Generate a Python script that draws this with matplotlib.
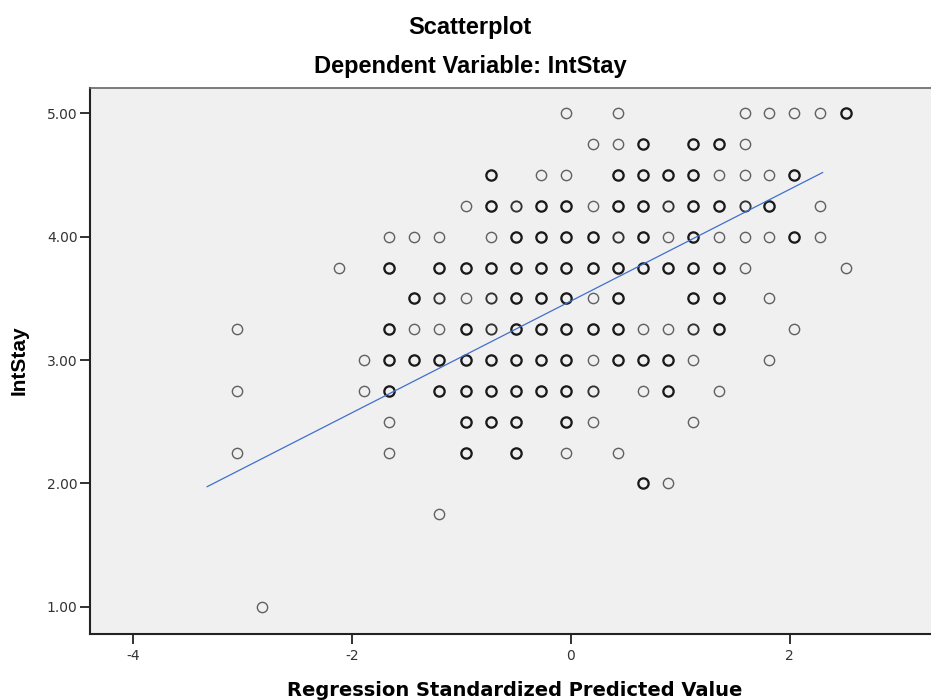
import matplotlib
matplotlib.use("Agg")
import matplotlib.pyplot as plt

# predicted value (x), IntStay level (y); n = how many cases sit on the same spot
pts_500 = [(-0.04, 1), (0.43, 1), (1.59, 1), (1.81, 1), (2.04, 1), (2.28, 1), (2.51, 3)]
pts_475 = [(0.20, 1), (0.43, 1), (0.66, 3), (1.12, 3), (1.35, 3), (1.59, 1)]
pts_450 = [(-0.73, 3), (-0.27, 1), (-0.04, 1), (0.43, 3), (0.66, 3), (0.89, 3), (1.12, 3),
           (1.35, 1), (1.59, 1), (1.81, 1), (2.04, 3)]
pts_425 = [(-0.96, 1), (-0.73, 3), (-0.50, 2), (-0.27, 3), (-0.04, 3), (0.20, 1), (0.43, 3),
           (0.66, 3), (0.89, 2), (1.12, 3), (1.35, 3), (1.59, 2), (1.81, 3), (2.28, 1)]
pts_400 = [(-1.66, 1), (-1.43, 1), (-1.20, 1), (-0.73, 1), (-0.50, 3), (-0.27, 3), (-0.04, 3),
           (0.20, 3), (0.43, 2), (0.66, 3), (0.89, 1), (1.12, 3), (1.35, 1), (1.59, 1),
           (1.81, 1), (2.04, 3), (2.28, 1)]
pts_375 = [(-2.12, 1), (-1.66, 3), (-1.20, 3), (-0.96, 3), (-0.73, 3), (-0.50, 3), (-0.27, 3),
           (-0.04, 3), (0.20, 3), (0.43, 3), (0.66, 3), (0.89, 3), (1.12, 3), (1.35, 3),
           (1.59, 1), (2.51, 1)]
pts_350 = [(-1.43, 3), (-1.20, 2), (-0.96, 1), (-0.73, 2), (-0.50, 3), (-0.27, 3), (-0.04, 3),
           (0.20, 1), (0.43, 3), (1.12, 3), (1.35, 3), (1.81, 1)]
pts_325 = [(-3.05, 1), (-1.66, 3), (-1.43, 1), (-1.20, 1), (-0.96, 3), (-0.73, 2), (-0.50, 3),
           (-0.27, 3), (-0.04, 3), (0.20, 3), (0.43, 3), (0.66, 1), (0.89, 1), (1.12, 2),
           (1.35, 3), (2.04, 1)]
pts_300 = [(-1.89, 1), (-1.66, 3), (-1.43, 3), (-1.20, 3), (-0.96, 3), (-0.73, 3), (-0.50, 3),
           (-0.27, 3), (-0.04, 3), (0.20, 1), (0.43, 3), (0.66, 3), (0.89, 3), (1.12, 1),
           (1.81, 1)]
pts_275 = [(-3.05, 1), (-1.89, 1), (-1.66, 3), (-1.20, 3), (-0.96, 3), (-0.73, 3), (-0.50, 3),
           (-0.27, 3), (-0.04, 3), (0.20, 2), (0.66, 1), (0.89, 3), (1.35, 1)]
pts_250 = [(-1.66, 1), (-0.96, 3), (-0.73, 3), (-0.50, 3), (-0.04, 3), (0.20, 1), (1.12, 1)]
pts_225 = [(-3.05, 1), (-1.66, 1), (-0.96, 3), (-0.50, 3), (-0.04, 1), (0.43, 1)]
pts_200 = [(0.66, 3), (0.89, 1)]
pts_175 = [(-1.20, 1)]
pts_100 = [(-2.82, 1)]

levels = [5.00, 4.75, 4.50, 4.25, 4.00, 3.75, 3.50, 3.25, 3.00, 2.75, 2.50, 2.25, 2.00, 1.75, 1.00]
rows = [pts_500, pts_475, pts_450, pts_425, pts_400, pts_375, pts_350, pts_325,
        pts_300, pts_275, pts_250, pts_225, pts_200, pts_175, pts_100]

# fit line
fit_intercept = 3.478
fit_slope = 0.453
fit_x = [-3.32, 2.30]

x_ticks = [-4, -2, 0, 2]
y_ticks = [1.00, 2.00, 3.00, 4.00, 5.00]

fig = plt.figure(figsize=(9.31, 7.0), dpi=100)
ax = fig.add_axes([90 / 931, 66 / 700, 841 / 931, 546 / 700])
ax.set_facecolor('#f0f0f0')

edge_col = {1: '#606060', 2: '#333333', 3: '#1a1a1a'}
edge_w = {1: 1.0, 2: 1.35, 3: 1.65}
for lvl, row in zip(levels, rows):
    for xv, n in row:
        ax.plot([xv], [lvl], 'o', ms=7.4, mfc='none', mec=edge_col[n], mew=edge_w[n])

fit_y = [fit_intercept + fit_slope * v for v in fit_x]
ax.plot(fit_x, fit_y, color='#4070cc', lw=0.9)

ax.set_xlim(-4.39, 3.29)
ax.set_ylim(0.78, 5.205)
ax.set_xticks(x_ticks)
ax.set_xticklabels([str(t) for t in x_ticks])
ax.set_yticks(y_ticks)
ax.set_yticklabels(['%.2f' % t for t in y_ticks])
ax.tick_params(length=7, width=1.3, color='#222222', labelsize=10, labelcolor='#333333')
ax.tick_params(axis='x', pad=3.5)
ax.tick_params(axis='y', pad=2)

ax.spines['right'].set_visible(False)
ax.spines['left'].set_linewidth(1.5)
ax.spines['bottom'].set_linewidth(1.5)
ax.spines['left'].set_color('#222222')
ax.spines['bottom'].set_color('#222222')
ax.spines['top'].set_color('#666666')
ax.spines['top'].set_linewidth(1.2)

fig.text(470 / 931, 1 - 34 / 700, 'Scatterplot', ha='center', va='baseline',
         fontsize=17, fontweight='bold', family='Liberation Sans')
fig.text(470 / 931, 1 - 73 / 700, 'Dependent Variable: IntStay', ha='center', va='baseline',
         fontsize=17, fontweight='bold', family='Liberation Sans')
fig.text(515 / 931, 4 / 700, 'Regression Standardized Predicted Value', ha='center',
         va='baseline', fontsize=14, fontweight='bold', family='DejaVu Sans')
fig.text(19 / 931, 1 - 360 / 700, 'IntStay', ha='center', va='center', rotation=90,
         fontsize=15, fontweight='bold', family='Liberation Sans')

fig.savefig('out.png', dpi=100)
